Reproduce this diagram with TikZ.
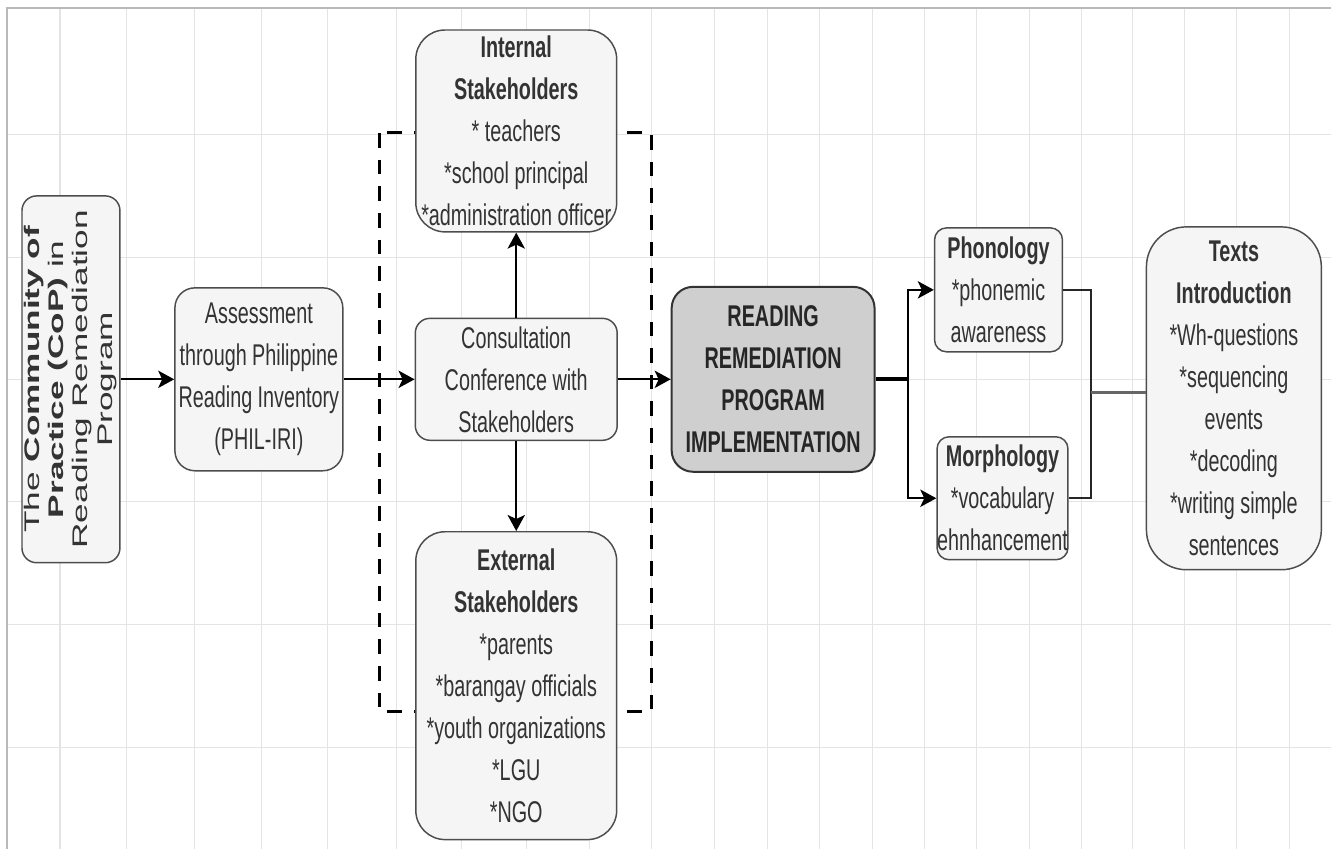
\documentclass[tikz,border=0pt]{standalone}
\usepackage{fontspec}
\setmainfont{Liberation Sans}[FakeStretch=0.66]
\newfontfamily\copfont{Liberation Sans}
\usepackage{tikz}
\usetikzlibrary{positioning,arrows.meta,backgrounds,calc}
\definecolor{BoxLine}{HTML}{4D4D4D}
\definecolor{BoxFill}{HTML}{F5F5F5}
\definecolor{HubFill}{HTML}{CFCFCF}
\definecolor{GridLine}{HTML}{E4E4E4}
\definecolor{TextGray}{HTML}{333333}

\begin{document}
\begin{tikzpicture}[
  x=0.75pt, y=-0.75pt,
  >={Stealth[length=12pt,width=13pt,inset=3pt]},
  stepbox/.style={
    draw=BoxLine, fill=BoxFill, line width=1.1pt, rounded corners=#1,
    align=center, inner sep=0pt, text=TextGray,
    font=\fontsize{22.5}{31.5}\selectfont
  },
  stepbox/.default=14pt,
  hubbox/.style={
    draw=black!80, fill=HubFill, line width=1.5pt, rounded corners=16pt,
    align=center, inner sep=0pt, text=black!85,
    font=\fontsize{22.5}{31.5}\selectfont\bfseries,
    minimum width=152.25pt, minimum height=138.75pt
  },
  flow/.style={->, draw=black, line width=1.5pt},
  trunk/.style={draw=black, line width=3pt},
  link/.style={draw=black!85, line width=1.5pt},
  mergeline/.style={draw=black!60, line width=2.2pt},
  stakeframe/.style={draw=black, line width=2.25pt, dash pattern=on 11pt off 9pt},
  gridline/.style={draw=GridLine, line width=0.8pt},
]

% ---------- Page and grid ----------
\begin{scope}[on background layer]
  \fill[white] (0,0) rectangle (1332,849);
  \foreach \gx in {60,127,195,262,328,397,462,527,590,652,715,768,820,873,925,977,1030,1082,1133,1185,1237,1290}
    \draw[gridline] (\gx,8) -- (\gx,849);
  \foreach \gy in {135,258,380,502,625,748}
    \draw[gridline] (7,\gy) -- (1332,\gy);
  \draw[gray!55, line width=1pt] (7,849) -- (7,8) -- (1332,8);
  % dashed frame round the stakeholders
  \draw[stakeframe] (380,133) rectangle (652,712);
\end{scope}

% ---------- Boxes ----------
\node[stepbox=11pt, minimum width=73.5pt, minimum height=275.25pt] (box_cop) at (71,379.5)
  {\rotatebox{90}{\scalebox{1.1}[0.66]{\copfont\fontsize{24}{27.5}\selectfont
   \setlength{\tabcolsep}{0pt}\begin{tabular}{c}
   The \textbf{Community of}\\ \textbf{Practice (CoP)} in\\ Reading Remediation\\ Program
   \end{tabular}}}};
\node[stepbox=15pt, minimum width=126pt, minimum height=137.25pt] (box_assess) at (259,379.5)
  {Assessment\\through Philippine\\Reading Inventory\\(PHIL-IRI)};
\node[stepbox=11pt, minimum width=151.5pt, minimum height=91.5pt] (box_consult) at (516.5,379.5)
  {Consultation\\Conference with\\Stakeholders};
\node[stepbox=22pt, minimum width=150.75pt, minimum height=151.5pt] (box_internal) at (516.5,131)
  {\textbf{Internal}\\\textbf{Stakeholders}\\* teachers\\*school principal\\*administration officer};
\node[stepbox=22pt, minimum width=150.75pt, minimum height=231pt] (box_external) at (516.5,686)
  {\textbf{External}\\\textbf{Stakeholders}\\*parents\\*barangay officials\\*youth organizations\\*LGU\\*NGO};
\node[hubbox] (box_rrp) at (773.5,379.5)
  {READING\\REMEDIATION\\PROGRAM\\IMPLEMENTATION};
\node[stepbox=9pt, minimum width=96pt, minimum height=93pt] (box_phon) at (999,290)
  {\textbf{Phonology}\\*phonemic\\awareness};
\node[stepbox=9pt, minimum width=96pt, minimum height=92.25pt] (box_morph) at (1003,498.5)
  {\textbf{Morphology}\\*vocabulary\\ehnhancement};
\node[stepbox=30pt, minimum width=131.25pt, minimum height=257.25pt] (box_texts) at (1234.5,398.5)
  {\textbf{Texts}\\\textbf{Introduction}\\*Wh-questions\\*sequencing\\events\\*decoding\\*writing simple\\sentences};

% ---------- Connectors ----------
\coordinate (split) at (908,379.5);
\coordinate (merge) at (1092,393);

\draw[flow] (box_cop) -- (box_assess);
\draw[flow] (box_assess) -- (box_consult);
\draw[flow] (box_consult) -- (box_internal);
\draw[flow] (box_consult) -- (box_external);
\draw[flow] (box_consult) -- (box_rrp);

% branch into the two strands
\draw[trunk] (box_rrp.east) -- (split);
\draw[flow] (split) |- (box_phon.west);
\draw[flow] (split) |- (box_morph.west);

% strands join towards the texts
\draw[link] (box_phon.east) -| (merge);
\draw[link] (box_morph.east) -| (merge);
\draw[mergeline] (merge) -- (merge -| box_texts.west);

\end{tikzpicture}
\end{document}
